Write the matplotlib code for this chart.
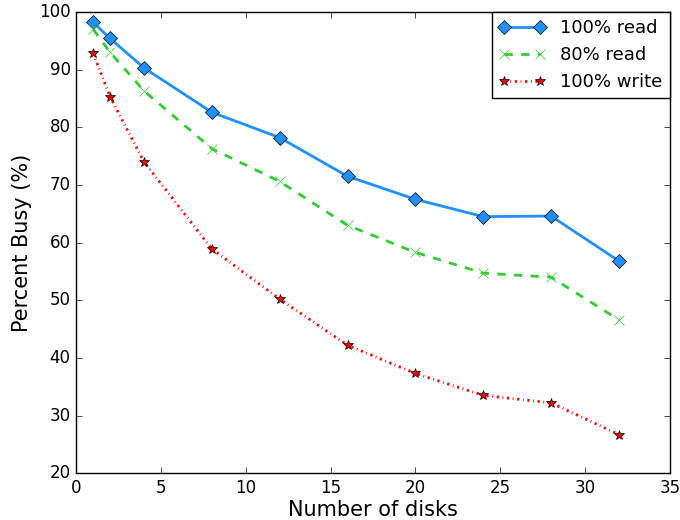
import matplotlib
matplotlib.use("Agg")
import matplotlib.pyplot as plt

plt.style.use("classic")

disks = [1, 2, 4, 8, 12, 16, 20, 24, 28, 32]
read_100 = [98.2, 95.4, 90.3, 82.6, 78.2, 71.5, 67.5, 64.5, 64.6, 56.8]
read_80 = [97.0, 93.0, 86.3, 76.3, 70.6, 63.0, 58.3, 54.7, 54.0, 46.6]
write_100 = [92.8, 85.3, 74.0, 58.9, 50.2, 42.2, 37.3, 33.5, 32.2, 26.7]

fig = plt.figure(figsize=(6.8, 5.2), dpi=100)
ax = fig.add_axes([0.112, 0.09, 0.873, 0.887])

ax.plot(disks, read_100, color="#1E90FF", linestyle="-", linewidth=2,
        marker="D", markersize=7, markerfacecolor="#1E90FF",
        markeredgecolor="black", label="100% read")
ax.plot(disks, read_80, color="#32CD32", linestyle="--", linewidth=2,
        marker="x", markersize=7, markeredgecolor="#32CD32",
        label="80% read")
ax.plot(disks, write_100, color="red", linewidth=2, dashes=(1.6, 2.6, 0.6, 2.6),
        marker="*", markersize=7, markerfacecolor="red",
        markeredgecolor="black", label="100% write")

ax.set_xlim(0, 35)
ax.set_ylim(20, 100)
ax.set_xlabel("Number of disks", fontsize=15, labelpad=2)
ax.set_ylabel("Percent Busy (%)", fontsize=15)
ax.tick_params(labelsize=12)
ax.legend(loc="upper right", fontsize=13, numpoints=2, handlelength=2.6,
          borderaxespad=0)

fig.savefig("out.png", dpi=100)
